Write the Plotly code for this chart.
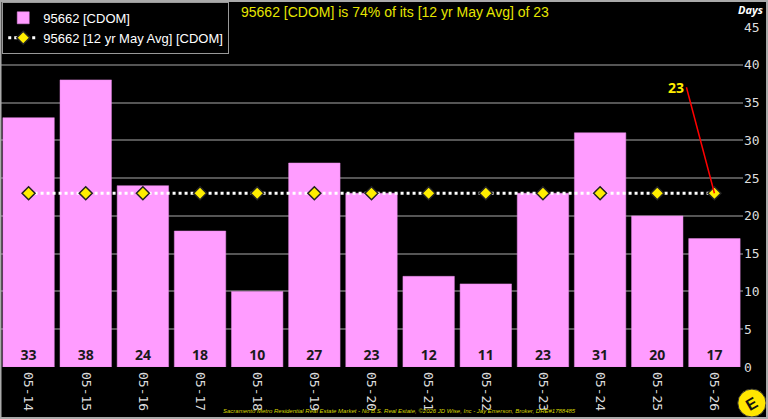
import plotly.graph_objects as go

categories = ["05-14", "05-15", "05-16", "05-17", "05-18", "05-19", "05-20",
              "05-21", "05-22", "05-23", "05-24", "05-25", "05-26"]
cdom = [33, 38, 24, 18, 10, 27, 23, 12, 11, 23, 31, 20, 17]
avg12 = [23] * 13
title_text = "95662 [CDOM] is 74% of its [12 yr May Avg] of 23"
footer_text = ("Sacramento Metro Residential Real Estate Market - No B.S. Real Estate, "
               "\u00a92026 JD Wise, Inc - Jay Emerson, Broker, DRE#1788485")

fig = go.Figure()
fig.add_trace(go.Bar(
    x=categories, y=cdom, name="95662 [CDOM]",
    marker=dict(color="#ff9cff", line=dict(color="#e58ae5", width=0.5)),
    text=[str(v) for v in cdom], textposition="inside", insidetextanchor="start",
    textfont=dict(family="Open Sans, Arial", size=14, color="#1a1a1a", weight="bold"),
    textangle=0,
))
fig.add_trace(go.Scatter(
    x=categories, y=avg12, name="95662 [12 yr May Avg] [CDOM]",
    mode="lines+markers",
    line=dict(color="white", width=3, dash="dot"),
    marker=dict(symbol="diamond", size=10, color="#ffee00", line=dict(color="#222222", width=1.5)),
))

fig.add_annotation(
    x=categories[-1], y=avg12[-1], text="<b>23</b>", showarrow=True,
    ax=-28, ay=-106, arrowhead=0, arrowcolor="red", arrowwidth=1.5,
    font=dict(color="#ffee00", size=14, family="Open Sans, Arial"),
    xanchor="right",
)
fig.add_annotation(
    xref="paper", yref="paper", x=0.3215, y=1.0, yanchor="bottom", xanchor="left",
    yshift=5, text=title_text, showarrow=False,
    font=dict(color="#e6e600", size=14, family="Arial"),
)
fig.add_annotation(
    xref="paper", yref="paper", x=1.03, y=1.0, yanchor="bottom", xanchor="right",
    yshift=8, text="<i><b>Days</b></i>", showarrow=False,
    font=dict(color="white", size=11, family="Open Sans, Arial"),
)
fig.add_annotation(
    xref="paper", yref="paper", x=0.297, y=-0.0, yanchor="top", xanchor="left",
    yshift=-39, text="<i>" + footer_text + "</i>", showarrow=False,
    font=dict(color="#d8d800", size=6, family="Arial"),
)
# logo
fig.add_shape(type="circle", xref="paper", yref="paper",
              x0=0.993, x1=1.031, y0=-0.147, y1=-0.065,
              fillcolor="#ffe600", line=dict(color="#333", width=1))
fig.add_annotation(
    xref="paper", yref="paper", x=1.012, y=-0.106, xanchor="center", yanchor="middle",
    text="<b>E</b>", showarrow=False,
    textangle=-30, font=dict(color="#111", size=16, family="Arial"),
)
# frame
fig.add_shape(type="rect", xref="paper", yref="paper",
              x0=0.0007, x1=1.0323, y0=-0.150, y1=1.0765,
              line=dict(color="#aaaaaa", width=2), layer="above")

fig.update_layout(
    width=768, height=419,
    margin=dict(l=0, r=25, t=27, b=52),
    paper_bgcolor="black", plot_bgcolor="black",
    bargap=0.1,
    showlegend=True,
    legend=dict(x=0.003, y=1.074, xanchor="left", yanchor="top",
                bgcolor="black", bordercolor="#999999", borderwidth=1,
                font=dict(color="white", size=13, family="Arial"),
                tracegroupgap=0, itemwidth=30),
    xaxis=dict(tickangle=90, tickfont=dict(family="DejaVu Sans Mono", size=13, color="#dddddd"),
               range=[-0.5, 12.5], ticklabelstandoff=4,
               showgrid=False, zeroline=False, showline=False, ticks="", automargin=False),
    yaxis=dict(side="right", range=[0, 45], dtick=5, automargin=False,
               tickfont=dict(family="DejaVu Sans Mono", size=13, color="#dddddd"),
               gridcolor="#555555", gridwidth=1.5, zeroline=False, showline=False),
    font=dict(family="Arial"),
)
fig.write_html("out.html")
